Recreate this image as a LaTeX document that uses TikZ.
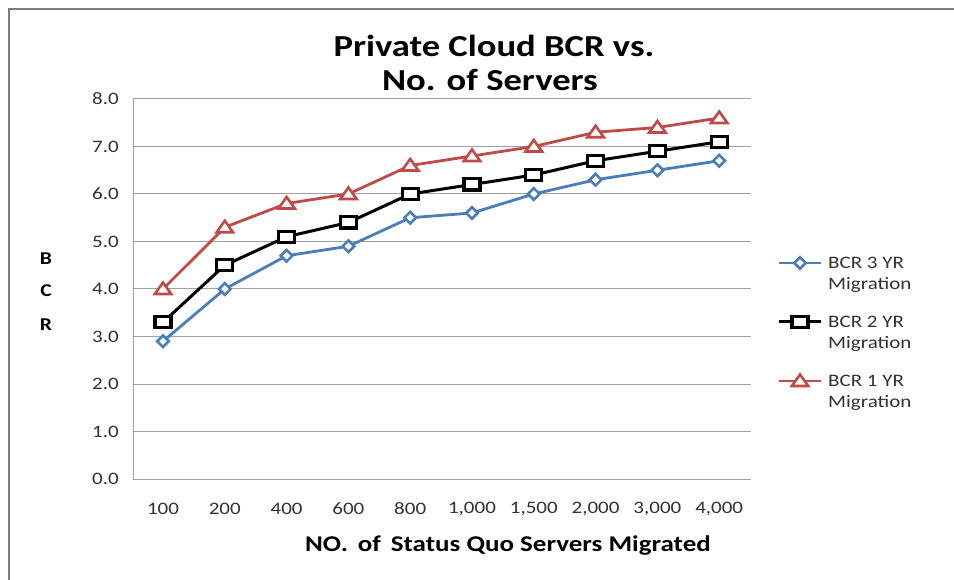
\documentclass[tikz,border=0pt]{standalone}
\usepackage{fontspec}
\setmainfont{Carlito}[FakeStretch=1.2]
\definecolor{serblue}{RGB}{74,126,187}
\definecolor{serred}{RGB}{190,75,72}
\definecolor{gridc}{RGB}{160,160,160}
\definecolor{framec}{RGB}{125,125,125}
\definecolor{tickc}{RGB}{50,50,50}
\tikzset{
  gridline/.style={draw=gridc, line width=1pt},
  ticklab/.style={text=tickc, font=\fontsize{17.5}{20}\selectfont, inner sep=0pt},
  legtext/.style={text=tickc, font=\fontsize{17.5}{20}\selectfont, inner sep=0pt, anchor=west},
  lthree/.style={draw=serblue, line width=2.8pt, line join=round},
  ltwo/.style={draw=black, line width=3pt, line join=round},
  lone/.style={draw=serred, line width=2.8pt, line join=round},
  mkthree/.style={draw=serblue, fill=white, line width=2.6pt},
  mktwo/.style={draw=black, fill=white, line width=3.2pt},
  mkone/.style={draw=serred, fill=white, line width=2.6pt},
  diam/.pic={\draw[mkthree] (0,-5.8) -- (5.8,0) -- (0,5.8) -- (-5.8,0) -- cycle;},
  sqr/.pic={\draw[mktwo] (-8,-5.6) rectangle (8,5.6);},
  tri/.pic={\draw[mkone] (0,-6.5) -- (8.2,5) -- (-8.2,5) -- cycle;},
}
\begin{document}
\begin{tikzpicture}[x=1pt,y=-1pt]
\useasboundingbox[fill=white] (0,0) rectangle (954,580);
% chart frame
\draw[framec, line width=2pt] (9,580) -- (9,9) -- (954,9);
% title
\node[font=\fontsize{30.5}{34}\selectfont\bfseries, inner sep=0pt] (t1) at (494,46) {Private Cloud BCR vs.};
\node[font=\fontsize{30.5}{34}\selectfont\bfseries, inner sep=0pt] (t2) at (490,80) {No. of Servers};
% grid
\foreach \v in {0,...,8} {
  \draw[gridline] (133,{479-47.5*\v}) -- (751,{479-47.5*\v});
  \node[ticklab, anchor=east] (y\v) at (119,{479-47.5*\v}) {\v.0};
}
\draw[gridline] (133,99) -- (133,479);
% x labels
\foreach \lab [count=\i from 0] in {100,200,400,600,800,{1,000},{1,500},{2,000},{3,000},{4,000}} {
  \node[ticklab] (x\i) at ({163+61.8*\i},509) {\lab};
}
% axis titles
\node[font=\fontsize{22.5}{26}\selectfont\bfseries, inner sep=0pt] (xt) at (508,546) {NO.\ \,of\ \,Status Quo Servers Migrated};
\node[font=\fontsize{18}{20}\selectfont\bfseries, inner sep=0pt] (yb) at (46,259) {B};
\node[font=\fontsize{18}{20}\selectfont\bfseries, inner sep=0pt] (yc) at (46,291) {C};
\node[font=\fontsize{18}{20}\selectfont\bfseries, inner sep=0pt] (yr) at (46,325) {R};
% data lines
\begin{scope}[shift={(163pt,-479pt)}, x=61.8pt, y=47.5pt]
  \draw[lthree] plot coordinates {(0,2.9) (1,4.0) (2,4.7) (3,4.9) (4,5.5) (5,5.6) (6,6.0) (7,6.3) (8,6.5) (9,6.7)};
  \draw[ltwo] plot coordinates {(0,3.3) (1,4.5) (2,5.1) (3,5.4) (4,6.0) (5,6.2) (6,6.4) (7,6.7) (8,6.9) (9,7.1)};
  \draw[lone] plot coordinates {(0,4.0) (1,5.3) (2,5.8) (3,6.0) (4,6.6) (5,6.8) (6,7.0) (7,7.3) (8,7.4) (9,7.6)};
\end{scope}
% markers
\foreach \i/\v in {0/2.9,1/4.0,2/4.7,3/4.9,4/5.5,5/5.6,6/6.0,7/6.3,8/6.5,9/6.7}
  \pic at ({163+61.8*\i},{479-47.5*\v}) {diam};
\foreach \i/\v in {0/3.3,1/4.5,2/5.1,3/5.4,4/6.0,5/6.2,6/6.4,7/6.7,8/6.9,9/7.1}
  \pic at ({163+61.8*\i},{479-47.5*\v}) {sqr};
\foreach \i/\v in {0/4.0,1/5.3,2/5.8,3/6.0,4/6.6,5/6.8,6/7.0,7/7.3,8/7.4,9/7.6}
  \pic at ({163+61.8*\i},{479-47.5*\v}) {tri};
% legend
\coordinate (l3a) at (779,263); \coordinate (l3b) at (821,263); \coordinate (l3m) at (800,263);
\coordinate (l2a) at (779,322); \coordinate (l2b) at (821,322); \coordinate (l2m) at (800,322);
\coordinate (l1a) at (779,381); \coordinate (l1b) at (821,381); \coordinate (l1m) at (800,381);
\draw[lthree] (l3a) -- (l3b);
\draw[ltwo] (l2a) -- (l2b);
\draw[lone] (l1a) -- (l1b);
\pic at (l3m) {diam};
\pic at (l2m) {sqr};
\pic at (l1m) {tri};
\node[legtext] (g3a) at (828,263) {BCR 3 YR};
\node[legtext] (g3b) at (828,285) {Migration};
\node[legtext] (g2a) at (828,322) {BCR 2 YR};
\node[legtext] (g2b) at (828,344) {Migration};
\node[legtext] (g1a) at (828,381) {BCR 1 YR};
\node[legtext] (g1b) at (828,403) {Migration};
\end{tikzpicture}
\end{document}
